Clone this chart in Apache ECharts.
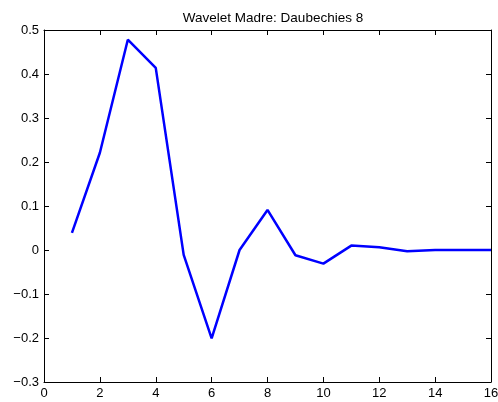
<!DOCTYPE html>
<html>
<head>
<meta charset="utf-8">
<script src="https://cdn.jsdelivr.net/npm/echarts@6/dist/echarts.min.js"></script>
<style>
  body { margin: 0; background: #fff; }
  #chart { width: 498px; height: 402px; }
</style>
</head>
<body>
<div id="chart"></div>
<script>
  // valores
  var xValues = [1, 2, 3, 4, 5, 6, 7, 8, 9, 10, 11, 12, 13, 14, 15, 16];
  var yValues = [0.039, 0.221, 0.478, 0.414, -0.011, -0.201, 0.0, 0.091, -0.012, -0.031, 0.010, 0.006, -0.003, 0.0, 0.0, 0.0];
  var xTicks = [0, 16, 2];
  var yTicks = [-0.3, 0.5, 0.1];

  var font = 'Liberation Sans, Arial, sans-serif';
  var minus = function (v) { return String(+v.toFixed(1)).replace('-', '\u2212'); };

  var chart = echarts.init(document.getElementById('chart'));
  var axisCommon = {
    axisLine: { show: true, onZero: false, lineStyle: { color: '#000', width: 1 } },
    axisTick: { show: true, inside: true, length: 5, lineStyle: { color: '#000' } },
    splitLine: { show: false }
  };
  chart.setOption({
    animation: false,
    title: {
      text: 'Wavelet Madre: Daubechies 8',
      left: 268, top: 6, textAlign: 'center',
      textStyle: { fontFamily: font, fontSize: 13.5, fontWeight: 'normal', color: '#000' }
    },
    grid: { left: 44, right: 7, top: 30, bottom: 20, outerBoundsMode: 'none', containLabel: false },
    xAxis: [
      Object.assign({
        type: 'value', position: 'bottom', min: xTicks[0], max: xTicks[1], interval: xTicks[2],
        axisLabel: { fontFamily: font, fontSize: 13, color: '#000', margin: 5 }
      }, axisCommon),
      Object.assign({
        type: 'value', position: 'top', min: xTicks[0], max: xTicks[1], interval: xTicks[2],
        axisLabel: { show: false }
      }, axisCommon)
    ],
    yAxis: [
      Object.assign({
        type: 'value', position: 'left', min: yTicks[0], max: yTicks[1], interval: yTicks[2],
        axisLabel: { fontFamily: font, fontSize: 13, color: '#000', margin: 5, formatter: minus }
      }, axisCommon),
      Object.assign({
        type: 'value', position: 'right', min: yTicks[0], max: yTicks[1], interval: yTicks[2],
        axisLabel: { show: false }
      }, axisCommon)
    ],
    series: [{
      type: 'line',
      data: xValues.map(function (x, i) { return [x, yValues[i]]; }),
      symbol: 'none',
      lineStyle: { color: '#0000ff', width: 2.5 }
    }]
  });
</script>
</body>
</html>
